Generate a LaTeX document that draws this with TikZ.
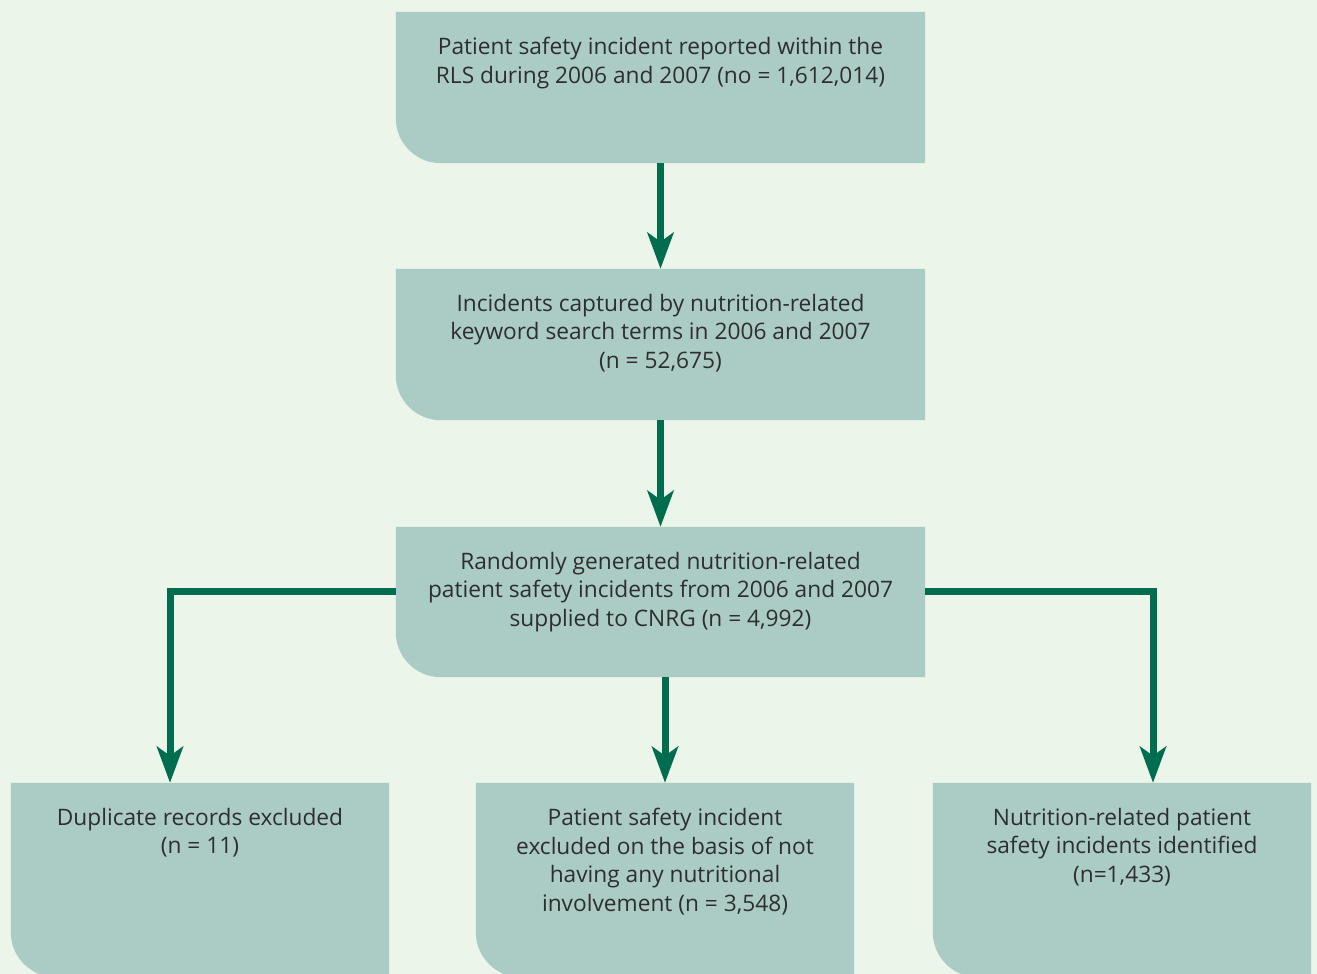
\documentclass[tikz,border=0pt]{standalone}
\usepackage{fontspec}
\setmainfont{Open Sans}
\usetikzlibrary{arrows.meta}
\definecolor{pagegreen}{HTML}{EBF5EA}
\definecolor{boxteal}{HTML}{ABCCC5}
\definecolor{arrowgreen}{HTML}{006E4E}
\definecolor{textgrey}{HTML}{2E2E2E}
\begin{document}
\begin{tikzpicture}
[x=1pt,y=-1pt,
  boxdecorate/.style={shape=rectangle,inner sep=0pt},
  textdecorate/.style={anchor=north,align=center,inner sep=0pt,text=textgrey,%
    font=\fontsize{22.7}{28.7}\selectfont},
  arrowdecorate/.style={-{Stealth[length=36pt,width=26pt,inset=9pt]},line width=7pt,arrowgreen}]
\fill[pagegreen] (0,0) rectangle (1317,974);
\useasboundingbox (0,0) rectangle (1317,974);
%% boxes
\foreach \boxname/\x/\y/\w/\h in {rls/660.5/87.5/529/151, keyword/660.5/344.5/529/151,
  random/660.5/602/529/150, dup/200/880/378/194, excl/665/880/378/194,
  ident/1122/880/378/194} {
  \node (\boxname) at (\x,\y) [boxdecorate,minimum width=\w pt,minimum height=\h pt] {};
  \fill[boxteal] (\boxname.north west) -- (\boxname.north east) -- (\boxname.south east)
    -- ([xshift=45pt]\boxname.south west) arc[start angle=270,end angle=180,radius=45pt] -- cycle;
}
%% texts
\node (rlstext) [textdecorate] at ([yshift=-25pt]rls.north)
  {Patient safety incident reported within the\\RLS during 2006 and 2007 (no = 1,612,014)};
\node (keywordtext) [textdecorate] at ([yshift=-25pt]keyword.north)
  {Incidents captured by nutrition-related\\keyword search terms in 2006 and 2007\\(n = 52,675)};
\node (randomtext) [textdecorate] at ([yshift=-25pt]random.north)
  {Randomly generated nutrition-related\\patient safety incidents from 2006 and 2007\\supplied to CNRG (n = 4,992)};
\node (duptext) [textdecorate] at ([yshift=-25pt]dup.north)
  {Duplicate records excluded\\(n = 11)};
\node (excltext) [textdecorate] at ([yshift=-25pt]excl.north)
  {Patient safety incident\\excluded on the basis of not\\having any nutritional\\involvement (n = 3,548)};
\node (identtext) [textdecorate] at ([yshift=-25pt]ident.north)
  {Nutrition-related patient\\safety incidents identified\\(n=1,433)};
%% arrows
\draw[arrowdecorate] (rls) -- (keyword);
\draw[arrowdecorate] (keyword) -- (random);
\draw[arrowdecorate] (random.south -| excl.north) -- (excl.north);
\draw[arrowdecorate] ([yshift=11pt]random.west) -| ([xshift=-30pt]dup.north);
\draw[arrowdecorate] ([yshift=11pt]random.east) -| ([xshift=31pt]ident.north);
\end{tikzpicture}
\end{document}
